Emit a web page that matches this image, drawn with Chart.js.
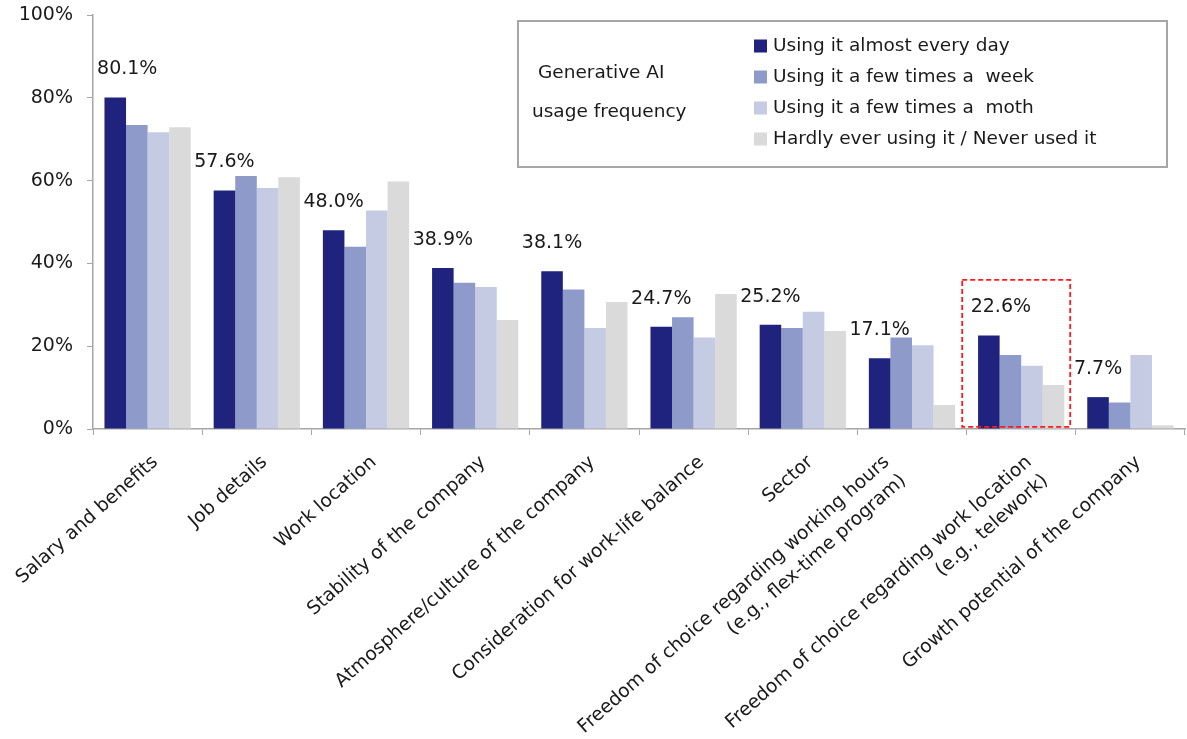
<!DOCTYPE html>
<html>
<head>
<meta charset="utf-8">
<script src="https://cdn.jsdelivr.net/npm/chart.js@4"></script>
<style>
  body { margin: 0; background: #fff; }
</style>
</head>
<body>
<canvas id="aiChart" width="1187" height="739"></canvas>
<script>
// 카테고리 (x축 라벨)
const categories = [
    'Salary and benefits',
    'Job details',
    'Work location',
    'Stability of the company',
    'Atmosphere/culture of the company',
    'Consideration for work-life balance',
    'Sector',
    ['Freedom of choice regarding working hours', '(e.g., flex-time program)'],
    ['Freedom of choice regarding work location', '(e.g., telework)'],
    'Growth potential of the company'
];

// 생성형 AI 사용 빈도별 값 (%)
const everyDay = [80.1, 57.6, 48.0, 38.9, 38.1, 24.7, 25.2, 17.1, 22.6, 7.7];
const fewWeek = [73.4, 61.1, 44.0, 35.3, 33.7, 27.0, 24.4, 22.1, 17.9, 6.4];
const fewMonth = [71.7, 58.2, 52.8, 34.3, 24.4, 22.1, 28.3, 20.2, 15.3, 17.9];
const hardlyEver = [72.9, 60.8, 59.8, 26.3, 30.7, 32.6, 23.7, 5.8, 10.6, 0.9];

const seriesNames = [
    'Using it almost every day',
    'Using it a few times a  week',
    'Using it a few times a  moth',
    'Hardly ever using it / Never used it'
];
const legendTitle = ['Generative AI', 'usage frequency'];
const yTicks = [0, 20, 40, 60, 80, 100];
const highlightIndex = 8; // 빨간 점선 박스

const colors = ['#1f237e', '#8e9bca', '#c6cbe4', '#dadada'];
const FONT = '"DejaVu Sans", Verdana, sans-serif';

// 첫 번째 시리즈 값 라벨
const valueLabels = {
    id: 'valueLabels',
    afterDatasetsDraw(chart) {
        const ctx = chart.ctx;
        const meta = chart.getDatasetMeta(0);
        ctx.save();
        ctx.font = '19px ' + FONT;
        ctx.fillStyle = '#1a1a1a';
        ctx.textAlign = 'center';
        ctx.textBaseline = 'middle';
        meta.data.forEach((bar, i) => {
            let x = bar.x;
            if (i === 0 || i === highlightIndex) x += 12; // 원본처럼 오른쪽으로 살짝
            ctx.fillText(everyDay[i].toFixed(1) + '%', x, bar.y - 28);
        });
        ctx.restore();
    }
};

// x축 라벨 (기울어진 텍스트, 직접 그림)
const xLabels = {
    id: 'xLabels',
    afterDraw(chart) {
        const ctx = chart.ctx;
        const xs = chart.scales.x;
        const size = 18.8;
        const angle = -41.5 * Math.PI / 180;
        ctx.save();
        ctx.font = size + 'px ' + FONT;
        ctx.fillStyle = '#1a1a1a';
        ctx.textAlign = 'right';
        ctx.textBaseline = 'alphabetic';
        categories.forEach((label, i) => {
            const lines = Array.isArray(label) ? label : [label];
            let x = xs.getPixelForValue(i) + 2;
            if (i === 7) x -= 33; // 원본에서 이 라벨만 왼쪽으로 밀려 있음
            ctx.save();
            ctx.translate(x, xs.bottom - xs.height + 24);
            ctx.rotate(angle);
            lines.forEach((line, j) => {
                ctx.fillText(line, 0, size * 0.73 + j * 25);
            });
            ctx.restore();
        });
        ctx.restore();
    }
};

// 강조 박스
const highlightBox = {
    id: 'highlightBox',
    afterDatasetsDraw(chart) {
        const ctx = chart.ctx;
        const xs = chart.scales.x;
        const ys = chart.scales.y;
        const cx = xs.getPixelForValue(highlightIndex);
        ctx.save();
        ctx.strokeStyle = '#ff1a1a';
        ctx.lineWidth = 1.8;
        ctx.setLineDash([5, 3]);
        ctx.strokeRect(cx - 59, ys.getPixelForValue(36), 108, ys.getPixelForValue(0.5) - ys.getPixelForValue(36));
        ctx.restore();
    }
};

// 범례 (박스 형태)
const boxLegend = {
    id: 'boxLegend',
    afterDraw(chart) {
        const ctx = chart.ctx;
        ctx.save();
        ctx.strokeStyle = '#a6a6a6';
        ctx.lineWidth = 2;
        ctx.strokeRect(518, 21, 649, 146);
        ctx.font = '18.5px ' + FONT;
        ctx.fillStyle = '#1a1a1a';
        ctx.textBaseline = 'middle';
        ctx.fillText(legendTitle[0], 538, 73);
        ctx.fillText(legendTitle[1], 532, 112);
        chart.data.datasets.forEach((ds, i) => {
            const y = 46 + i * 31;
            ctx.fillStyle = ds.backgroundColor;
            ctx.fillRect(754, y - 6.5, 13, 13);
            ctx.fillStyle = '#1a1a1a';
            ctx.fillText(ds.label, 773, y);
        });
        ctx.restore();
    }
};

const datasets = [everyDay, fewWeek, fewMonth, hardlyEver].map((vals, i) => ({
    label: seriesNames[i],
    data: vals,
    backgroundColor: colors[i],
    borderWidth: 0,
    categoryPercentage: 0.79,
    barPercentage: 1.0
}));

new Chart(document.getElementById('aiChart'), {
    type: 'bar',
    data: { labels: categories, datasets: datasets },
    options: {
        responsive: false,
        animation: false,
        layout: { padding: { top: 15, right: 2, left: 0, bottom: 0 } },
        plugins: {
            legend: { display: false },
            tooltip: { enabled: false }
        },
        scales: {
            x: {
                grid: { drawOnChartArea: false, tickLength: 6, color: '#a6a6a6', offset: true },
                border: { color: '#a6a6a6', width: 1.5 },
                ticks: { display: false, autoSkip: false },
                afterFit(scale) { scale.height = 310; }
            },
            y: {
                min: 0,
                max: 100,
                afterBuildTicks(scale) { scale.ticks = yTicks.map(v => ({ value: v })); },
                grid: { drawOnChartArea: false, tickLength: 6, color: '#a6a6a6' },
                border: { color: '#a6a6a6', width: 1.5 },
                ticks: {
                    padding: 14,
                    color: '#1a1a1a',
                    font: { family: FONT, size: 19 },
                    callback: v => v + '%'
                },
                afterFit(scale) {
                    scale.width = 93;
                    scale.paddingTop = 0;
                    scale.paddingBottom = 0;
                }
            }
        }
    },
    plugins: [valueLabels, highlightBox, boxLegend, xLabels]
});
</script>
</body>
</html>
